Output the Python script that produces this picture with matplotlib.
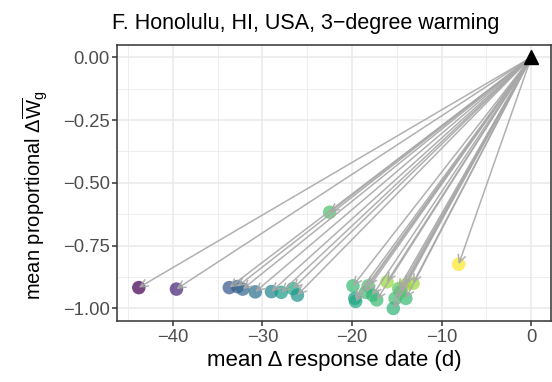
import matplotlib
matplotlib.use("Agg")
import matplotlib.pyplot as plt
import numpy as np

plt.rcParams['font.family'] = ['Liberation Sans', 'DejaVu Sans']
plt.rcParams['mathtext.fontset'] = 'custom'
plt.rcParams['mathtext.rm'] = 'Liberation Sans'
plt.rcParams['mathtext.it'] = 'Liberation Sans:italic'
plt.rcParams['mathtext.default'] = 'regular'

# data: mean delta response date, mean proportional delta W, colour value
x_vals = [-43.8, -39.6, -33.7, -32.8, -32.2, -30.8, -29.0, -27.9, -26.6, -26.1,
          -22.5, -19.9, -19.7, -19.6, -18.2, -18.5, -17.7, -17.25, -16.1, -14.8,
          -15.2, -15.4, -14.0, -14.1, -13.2, -14.6, -8.1]
y_vals = [-0.917, -0.923, -0.917, -0.913, -0.923, -0.934, -0.933, -0.936, -0.921, -0.947,
          -0.617, -0.910, -0.960, -0.972, -0.910, -0.936, -0.947, -0.966, -0.894, -0.921,
          -0.960, -1.000, -0.960, -0.907, -0.900, -0.935, -0.824]
c_vals = [0.00, 0.10, 0.27, 0.30, 0.33, 0.37, 0.45, 0.55, 0.60, 0.52,
          0.72, 0.68, 0.58, 0.60, 0.72, 0.70, 0.66, 0.68, 0.85, 0.75,
          0.70, 0.66, 0.68, 0.88, 0.85, 0.72, 1.00]
origin = (0.0, 0.0)

x_ticks = [-40, -30, -20, -10, 0]
y_ticks = [0.00, -0.25, -0.50, -0.75, -1.00]
y_tick_labels = ['0.00', '\u22120.25', '\u22120.50', '\u22120.75', '\u22121.00']
x_tick_labels = ['\u221240', '\u221230', '\u221220', '\u221210', '0']

fig = plt.figure(figsize=(5.52, 3.82), dpi=100)
ax = fig.add_axes([117.3/552, 1-321/382, (551-117.3)/552, (321-44.7)/382])

cmap = plt.get_cmap('viridis')
ax.scatter(x_vals, y_vals, c=[cmap(v) for v in c_vals], s=95, alpha=0.72,
           edgecolors='none', zorder=3)
for xv, yv in zip(x_vals, y_vals):
    ax.annotate('', xy=(xv, yv), xytext=origin,
                arrowprops=dict(arrowstyle='->,head_length=0.45,head_width=0.22',
                                color='#a8a8a8', lw=1.1, alpha=0.9,
                                shrinkA=0, shrinkB=0, mutation_scale=12),
                zorder=4)
ax.plot([origin[0]], [origin[1]], marker='^', color='black', ms=10, zorder=5,
        linestyle='none')

ax.set_xlim(-46.2, 2.2)
ax.set_ylim(-1.05, 0.05)
ax.set_xticks(x_ticks)
ax.set_xticklabels(x_tick_labels)
ax.set_yticks(y_ticks)
ax.set_yticklabels(y_tick_labels)
ax.set_xticks([-45, -35, -25, -15, -5], minor=True)
ax.set_yticks([-0.125, -0.375, -0.625, -0.875], minor=True)
ax.grid(True, which='major', color='#ebebeb', lw=1.2, zorder=0)
ax.grid(True, which='minor', color='#ebebeb', lw=0.6, zorder=0)
ax.set_axisbelow(True)
ax.tick_params(which='minor', length=0)
ax.tick_params(which='major', length=3.5, width=1.1, color='#333333',
               labelsize=13.3, labelcolor='#4d4d4d', pad=2)
for s in ax.spines.values():
    s.set_color('#333333')
    s.set_linewidth(1.1)

ax.set_xlabel('mean \u0394 response date (d)', fontsize=16, labelpad=3)
ax.set_ylabel(r'mean proportional $\Delta\overline{W}_{\mathrm{g}}$', fontsize=14.5, labelpad=9)
ax.yaxis.label.set_y(0.455)
fig.text(111.7/552, 1-28.5/382, 'F. Honolulu, HI, USA, 3\u2212degree warming',
         fontsize=15.5, ha='left', va='baseline')

fig.savefig('out.png', dpi=100)
